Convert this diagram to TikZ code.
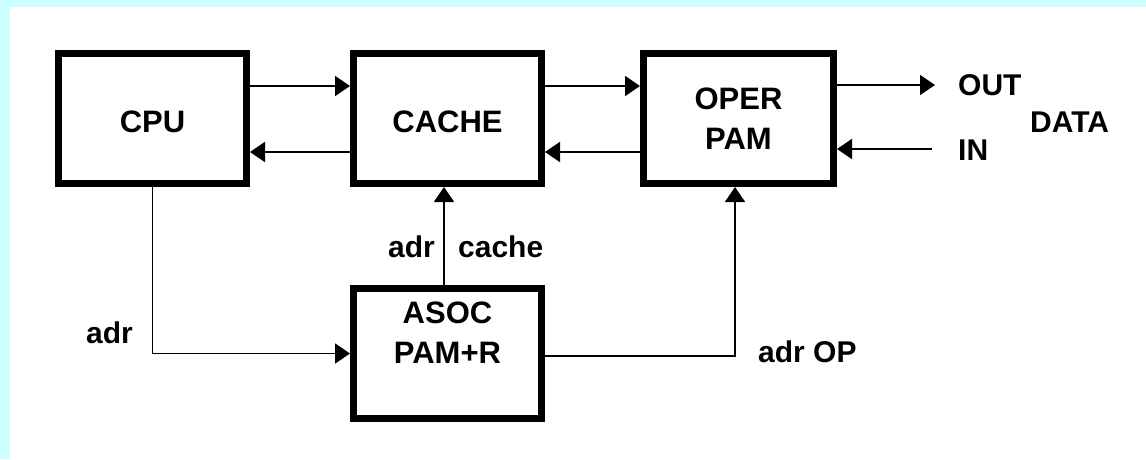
\documentclass[tikz,border=0pt]{standalone}
\usepackage{fontspec}
\setmainfont{Liberation Sans}
\usetikzlibrary{arrows.meta}
\definecolor{bgcyan}{RGB}{204,255,255}
\begin{document}
\begin{tikzpicture}[x=1pt,y=-1pt,
  box/.style={draw,line width=7pt,minimum width=188pt,minimum height=130pt,inner sep=0pt},
  boxtxt/.style={inner sep=0pt,align=center,font=\fontsize{31}{40}\selectfont\bfseries},
  conn/.style={line width=1.8pt},
  arr/.style={conn,-{Triangle[length=15pt,width=20pt]}},
  lbl/.style={inner sep=0pt,font=\fontsize{30}{36}\selectfont\bfseries}]
\useasboundingbox (0,0) rectangle (1146,459);
\fill[bgcyan] (0,0) rectangle (1146,459);
\fill[white] (10,7) rectangle (1146,459);

\node[box] (cpu) at (152.5,118.5) {};
\node[box] (cache) at (447.5,118.5) {};
\node[box,minimum width=190pt] (oper) at (738.5,118.5) {};
\node[box] (asoc) at (447.5,353.5) {};

\node[boxtxt] (cputxt) at ([yshift=-3.5pt]cpu.center) {CPU};
\node[boxtxt] (cachetxt) at ([yshift=-3.5pt]cache.center) {CACHE};
\node[boxtxt] (opertxt) at ([yshift=-0.5pt]oper.center) {OPER\\PAM};
\node[boxtxt] (asoctxt) at ([yshift=21pt]asoc.center) {ASOC\\PAM+R};

\draw[arr] ([yshift=32.5pt]cpu.east) -- ([yshift=32.5pt]cache.west);
\draw[arr] ([yshift=-33.5pt]cache.west) -- ([yshift=-33.5pt]cpu.east);
\draw[arr] ([yshift=32.5pt]cache.east) -- ([yshift=32.5pt]oper.west);
\draw[arr] ([yshift=-33.5pt]oper.west) -- ([yshift=-33.5pt]cache.east);

\coordinate (outend) at (935,85);
\coordinate (instart) at (932,149);
\draw[arr] (oper.east |- outend) -- (outend);
\draw[arr] (instart) -- (oper.east |- instart);
\node[lbl,anchor=west] (out) at (958,85) {OUT};
\node[lbl,anchor=west] (in) at (958,150) {IN};
\node[lbl,anchor=west] (data) at (1030,122) {DATA};

\draw[arr] (cpu.south) |- (asoc.west);
\draw[arr] ([xshift=-3.5pt]asoc.north) -- ([xshift=-3.5pt]cache.south);
\draw[arr] ([yshift=-2.5pt]asoc.east) -| ([xshift=-3.5pt]oper.south);

\node[lbl,anchor=east] (adr1) at (133,333) {adr};
\node[lbl,anchor=east] (adr2) at (435,247) {adr};
\node[lbl,anchor=west] (cachelbl) at (458,247) {cache};
\node[lbl,anchor=west] (adrop) at (758,352) {adr OP};
\end{tikzpicture}
\end{document}
